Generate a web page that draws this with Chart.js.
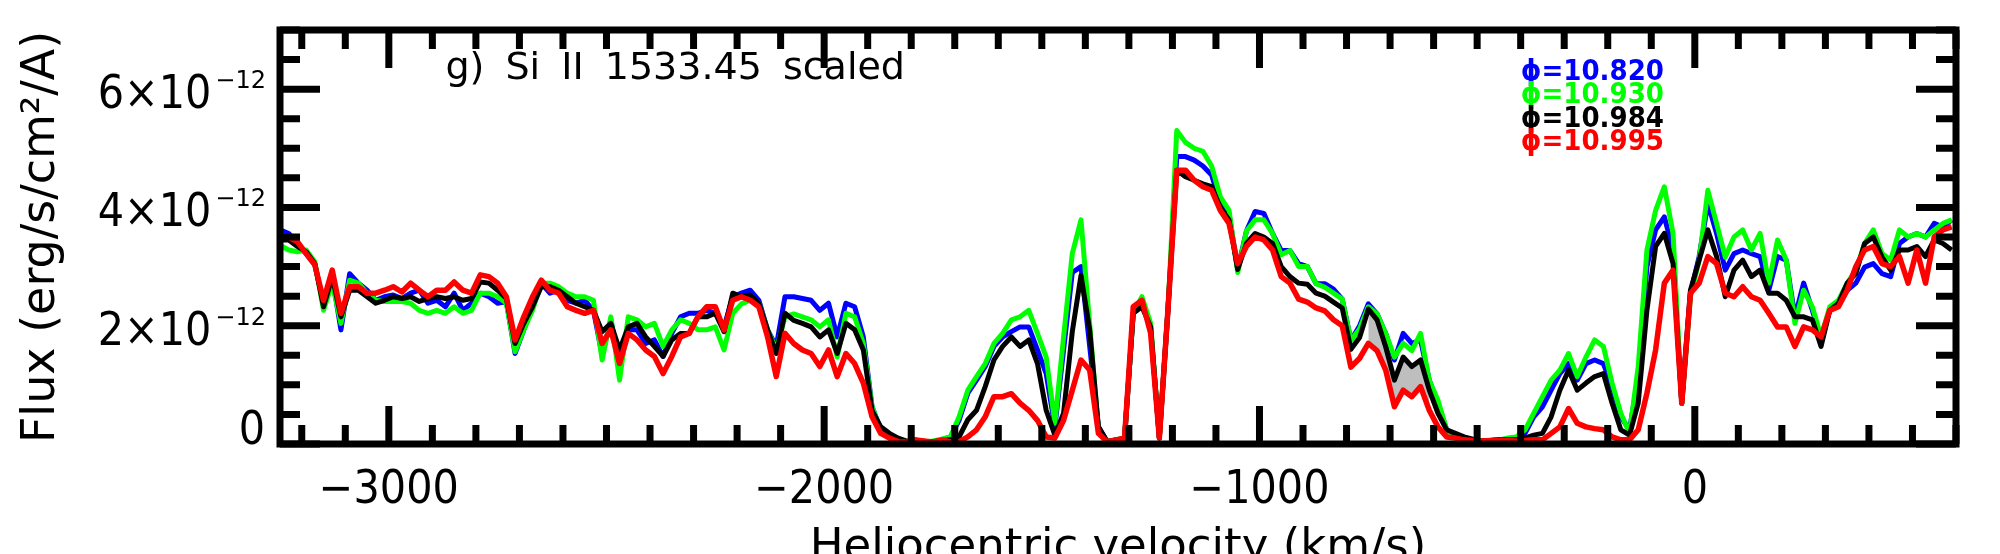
<!DOCTYPE html>
<html>
<head>
<meta charset="utf-8">
<script src="https://cdn.jsdelivr.net/npm/chart.js@4.4.0/dist/chart.umd.min.js"></script>
<style>
  html, body { margin: 0; padding: 0; background: #fff; }
</style>
</head>
<body>
<canvas id="siChart" width="2000" height="554"></canvas>
<script>
// heliocentric velocity grid (km/s), shared by the four spectra
const velocity = [
  -3250,-3230,-3210,-3190,-3170,-3150,-3130,-3110,-3090,-3070,
  -3050,-3030,-3010,-2990,-2970,-2950,-2930,-2910,-2890,-2870,
  -2850,-2830,-2810,-2790,-2770,-2750,-2730,-2710,-2690,-2670,
  -2650,-2630,-2610,-2590,-2570,-2550,-2530,-2510,-2490,-2470,
  -2450,-2430,-2410,-2390,-2370,-2350,-2330,-2310,-2290,-2270,
  -2250,-2230,-2210,-2190,-2170,-2150,-2130,-2110,-2090,-2070,
  -2050,-2030,-2010,-1990,-1970,-1950,-1930,-1910,-1890,-1870,
  -1850,-1830,-1810,-1790,-1770,-1750,-1730,-1710,-1690,-1670,
  -1650,-1630,-1610,-1590,-1570,-1550,-1530,-1510,-1490,-1470,
  -1450,-1430,-1410,-1390,-1370,-1350,-1330,-1310,-1290,-1270,
  -1250,-1230,-1210,-1190,-1170,-1150,-1130,-1110,-1090,-1070,
  -1050,-1030,-1010,-990,-970,-950,-930,-910,-890,-870,
  -850,-830,-810,-790,-770,-750,-730,-710,-690,-670,
  -650,-630,-610,-590,-570,-550,-530,-510,-490,-470,
  -450,-430,-410,-390,-370,-350,-330,-310,-290,-270,
  -250,-230,-210,-190,-170,-150,-130,-110,-90,-70,
  -50,-30,-10,10,30,50,70,90,110,130,
  150,170,190,210,230,250,270,290,310,330,
  350,370,390,410,430,450,470,490,510,530,
  550,570,590
];

// flux, in units of 1e-12 erg/s/cm2/A
const flux10820 = [ // blue
  3.62,3.56,3.39,3.22,3.03,2.38,2.83,1.93,2.88,2.72,
  2.60,2.43,2.49,2.52,2.46,2.55,2.60,2.38,2.43,2.32,
  2.55,2.26,2.38,2.55,2.49,2.38,2.41,1.53,1.93,2.32,
  2.72,2.55,2.60,2.43,2.38,2.43,2.26,1.50,2.10,1.31,
  1.93,1.93,1.70,1.76,1.48,1.87,2.15,2.21,2.21,2.26,
  2.21,1.98,2.49,2.55,2.60,2.43,1.93,1.65,2.49,2.49,
  2.46,2.43,2.26,2.38,1.81,2.38,2.32,1.81,0.63,0.24,
  0.12,0.04,0.04,0.07,0.04,0.04,0.07,0.12,0.40,0.86,
  1.08,1.31,1.65,1.81,1.90,1.98,1.98,1.59,1.19,0.29,
  1.59,2.90,3.00,1.65,0.29,0.04,0.07,0.10,2.21,2.43,
  1.98,0.10,2.30,4.86,4.86,4.80,4.70,4.55,4.07,3.90,
  2.95,3.60,3.93,3.90,3.56,3.27,3.27,3.05,3.00,2.71,
  2.71,2.62,2.45,1.75,2.00,2.37,2.20,1.87,1.42,1.87,
  1.70,1.76,1.08,0.69,0.24,0.12,0.07,0.07,0.05,0.06,
  0.07,0.07,0.10,0.18,0.46,0.63,0.91,1.19,1.36,1.08,
  1.36,1.42,1.36,0.97,0.46,0.24,1.14,3.00,3.62,3.84,
  3.28,0.69,2.55,3.17,4.07,3.56,2.94,3.22,3.28,3.22,
  3.17,2.60,3.17,3.11,2.15,2.72,2.26,1.76,2.26,2.38,
  2.60,2.72,2.99,3.05,2.88,2.83,3.39,3.50,3.56,3.50,
  3.73,3.67,3.79
];
const flux10930 = [ // green
  3.36,3.28,3.25,3.28,3.08,2.26,2.72,2.04,2.77,2.72,
  2.55,2.43,2.41,2.41,2.41,2.38,2.26,2.21,2.26,2.21,
  2.32,2.21,2.26,2.55,2.55,2.49,2.38,1.56,1.93,2.26,
  2.72,2.72,2.66,2.55,2.49,2.49,2.43,1.42,2.15,1.08,
  2.15,2.10,1.98,2.04,1.65,1.93,2.10,2.04,1.93,1.93,
  1.98,1.59,2.21,2.37,2.43,2.38,1.93,1.59,2.15,2.20,
  2.15,2.10,1.98,2.10,1.47,2.21,2.15,1.70,0.63,0.24,
  0.12,0.04,0.04,0.06,0.04,0.05,0.08,0.12,0.46,0.91,
  1.14,1.36,1.70,1.87,2.10,2.15,2.26,1.87,1.47,0.35,
  1.81,3.22,3.79,2.02,0.24,0.04,0.07,0.10,2.21,2.49,
  2.04,0.10,2.30,5.30,5.10,5.00,4.95,4.70,4.18,3.95,
  2.90,3.60,3.79,3.79,3.56,3.20,3.27,3.00,3.00,2.71,
  2.65,2.55,2.45,1.75,1.95,2.32,2.20,1.87,1.47,1.70,
  1.58,1.87,1.08,0.74,0.24,0.12,0.07,0.07,0.05,0.06,
  0.07,0.10,0.12,0.24,0.52,0.80,1.08,1.25,1.53,1.14,
  1.47,1.76,1.65,1.03,0.52,0.18,1.31,3.28,3.95,4.35,
  3.56,0.69,2.49,3.11,4.29,3.73,3.16,3.50,3.62,3.28,
  3.56,2.72,3.45,3.11,2.04,2.60,2.32,1.81,2.32,2.43,
  2.72,2.94,3.39,3.62,3.22,3.11,3.62,3.50,3.56,3.50,
  3.62,3.73,3.79
];
const flux10984 = [ // black
  3.45,3.45,3.34,3.25,3.05,2.32,2.83,2.15,2.60,2.60,
  2.49,2.38,2.43,2.49,2.46,2.49,2.41,2.46,2.49,2.46,
  2.49,2.43,2.46,2.74,2.72,2.60,2.46,1.70,2.04,2.32,
  2.66,2.66,2.60,2.49,2.38,2.32,2.26,1.90,2.04,1.59,
  1.98,2.04,1.81,1.65,1.48,1.76,1.87,1.87,2.15,2.15,
  2.21,1.90,2.55,2.49,2.52,2.38,1.93,1.53,2.21,2.09,
  2.04,1.98,1.81,1.93,1.53,2.04,1.93,1.59,0.57,0.29,
  0.18,0.10,0.05,0.06,0.04,0.04,0.06,0.07,0.12,0.41,
  0.57,0.97,1.42,1.65,1.81,1.65,1.76,1.36,0.57,0.15,
  0.52,1.90,2.85,1.93,0.29,0.04,0.07,0.10,2.21,2.32,
  1.98,0.10,2.30,4.63,4.52,4.46,4.40,4.35,4.00,3.79,
  2.95,3.39,3.56,3.50,3.39,3.00,2.83,2.72,2.70,2.55,
  2.50,2.40,2.30,1.60,1.80,2.28,2.10,1.64,1.08,1.47,
  1.31,1.42,0.91,0.52,0.24,0.18,0.12,0.08,0.05,0.06,
  0.07,0.07,0.07,0.10,0.15,0.18,0.46,0.91,1.25,0.91,
  1.03,1.14,1.19,0.69,0.24,0.15,0.69,2.26,3.34,3.56,
  3.05,0.69,2.60,3.11,3.62,3.17,2.49,2.94,3.11,2.83,
  2.94,2.55,2.55,2.43,2.15,2.15,2.10,1.65,2.26,2.38,
  2.72,2.88,3.39,3.50,3.16,2.94,3.28,3.28,3.34,3.17,
  3.45,3.39,3.28
];
const flux10995 = [ // red
  3.53,3.50,3.42,3.22,3.03,2.43,2.94,2.21,2.66,2.66,
  2.55,2.55,2.60,2.66,2.57,2.72,2.60,2.49,2.60,2.60,
  2.74,2.60,2.55,2.86,2.83,2.72,2.49,1.76,2.15,2.49,
  2.77,2.60,2.55,2.32,2.26,2.21,2.26,1.70,1.93,1.36,
  1.87,1.76,1.59,1.48,1.19,1.48,1.81,1.87,2.15,2.32,
  2.32,1.93,2.43,2.49,2.43,2.32,1.81,1.14,1.87,1.70,
  1.59,1.53,1.31,1.59,1.14,1.53,1.36,1.03,0.46,0.18,
  0.10,0.04,0.03,0.07,0.05,0.03,0.07,0.04,0.04,0.12,
  0.24,0.46,0.80,0.80,0.85,0.69,0.57,0.40,0.12,0.10,
  0.40,0.91,1.42,1.25,0.18,0.04,0.07,0.10,2.32,2.43,
  1.87,0.10,2.30,4.63,4.63,4.46,4.35,4.29,3.95,3.73,
  3.05,3.34,3.50,3.45,3.28,2.83,2.72,2.45,2.40,2.30,
  2.25,2.10,2.00,1.30,1.45,1.70,1.58,1.25,0.63,0.91,
  0.80,0.97,0.57,0.29,0.12,0.10,0.07,0.06,0.05,0.06,
  0.06,0.06,0.05,0.06,0.07,0.07,0.18,0.29,0.60,0.35,
  0.29,0.26,0.24,0.12,0.07,0.07,0.24,0.86,1.59,2.72,
  2.94,0.69,2.55,2.72,3.17,3.05,2.55,2.49,2.66,2.49,
  2.43,2.21,1.98,1.98,1.65,1.98,1.93,1.81,2.26,2.32,
  2.60,3.00,3.28,3.34,3.05,3.00,3.17,2.72,3.28,2.72,
  3.50,3.62,3.67
];

const phaseLabels = ['\u03D5=10.820', '\u03D5=10.930', '\u03D5=10.984', '\u03D5=10.995'];
const phaseColors = ['#0000ff', '#00ff00', '#000000', '#ff0000'];
const xTickLabels = [-3000, -2000, -1000, 0];
const yTickLabels = [0, 2, 4, 6];
const shadeRange = [-750, -610]; // grey band between black and red
const panelTitle = 'g) Si II 1533.45 scaled';

const toPoints = (arr) => velocity.map((v, i) => ({ x: v, y: arr[i] }));

// IDL-style frame: inward ticks on all four sides, labels, panel title, legend
const idlFrame = {
  id: 'idlFrame',
  afterDraw(chart) {
    const { ctx, chartArea: a, scales: { x, y } } = chart;
    ctx.save();
    ctx.strokeStyle = '#000';
    ctx.lineCap = 'butt';
    ctx.lineWidth = 7;
    x.ticks.forEach(t => {
      const px = x.getPixelForValue(t.value);
      const len = Math.abs(t.value % 1000) < 1e-6 ? 38 : 19;
      ctx.beginPath();
      ctx.moveTo(px, a.bottom); ctx.lineTo(px, a.bottom - len);
      ctx.moveTo(px, a.top); ctx.lineTo(px, a.top + len);
      ctx.stroke();
    });
    y.ticks.forEach(t => {
      const py = y.getPixelForValue(t.value);
      const len = Math.abs(t.value % 2) < 1e-6 ? 40 : 20;
      ctx.beginPath();
      ctx.moveTo(a.left, py); ctx.lineTo(a.left + len, py);
      ctx.moveTo(a.right, py); ctx.lineTo(a.right - len, py);
      ctx.stroke();
    });
    ctx.strokeRect(a.left, a.top, a.right - a.left, a.bottom - a.top);

    // y tick labels with exponent
    ctx.fillStyle = '#000';
    ctx.textAlign = 'right';
    ctx.textBaseline = 'alphabetic';
    const xr = a.left - 14;
    yTickLabels.forEach(v => {
      const py = y.getPixelForValue(v);
      if (v === 0) {
        ctx.font = '46px "DejaVu Sans Condensed"';
        ctx.fillText('0', xr - 1, py);
        return;
      }
      ctx.font = '24px "DejaVu Sans"';
      ctx.fillText('\u221212', xr, py - 1);
      const w = ctx.measureText('\u221212').width;
      ctx.font = '46px "DejaVu Sans Condensed"';
      ctx.fillText(v + '\u00D710', xr - w - 4, py + 19);
    });

    // panel title
    ctx.textAlign = 'left';
    ctx.font = '38px "DejaVu Sans"';
    ctx.wordSpacing = '9px';
    ctx.fillText(panelTitle, x.getPixelForValue(-2870), 79);
    ctx.wordSpacing = '0px';

    // legend
    ctx.font = 'bold 29px "DejaVu Sans Condensed"';
    phaseLabels.forEach((lab, i) => {
      ctx.fillStyle = phaseColors[i];
      ctx.fillText(lab, x.getPixelForValue(-400), 80 + i * 23.4);
    });
    ctx.restore();
  }
};

const lineSet = (label, arr, color, order, width) => ({
  label, data: toPoints(arr), borderColor: color, borderWidth: width,
  pointRadius: 0, tension: 0, fill: false, order, borderJoinStyle: 'round'
});

new Chart(document.getElementById('siChart'), {
  type: 'line',
  data: {
    datasets: [
      lineSet(phaseLabels[0], flux10820, phaseColors[0], 3, 5),
      lineSet(phaseLabels[1], flux10930, phaseColors[1], 2, 5),
      lineSet(phaseLabels[2], flux10984, phaseColors[2], 1, 5),
      lineSet(phaseLabels[3], flux10995, phaseColors[3], 0, 5.5),
      {
        label: 'shade',
        data: toPoints(flux10984).filter(p => p.x >= shadeRange[0] && p.x <= shadeRange[1]),
        borderWidth: 0, pointRadius: 0, order: 4,
        backgroundColor: '#bebebe',
        fill: { target: 3, above: '#bebebe', below: '#bebebe' }
      }
    ]
  },
  options: {
    responsive: false,
    animation: false,
    events: [],
    layout: { padding: { top: 30, right: 44, left: 0, bottom: 0 } },
    plugins: { legend: { display: false }, tooltip: { enabled: false } },
    scales: {
      x: {
        type: 'linear', min: -3250, max: 600,
        afterFit: (s) => { s.height = 110; },
        grid: { display: false, drawTicks: false },
        border: { display: false },
        ticks: {
          stepSize: 100, includeBounds: false, autoSkip: false,
          maxRotation: 0, minRotation: 0, padding: 19, color: '#000',
          font: { family: 'DejaVu Sans Condensed', size: 46 },
          callback: (v) => xTickLabels.includes(v) ? (v < 0 ? '\u2212' + Math.abs(v) : String(v)) : ''
        },
        title: {
          display: true, text: 'Heliocentric velocity (km/s)', color: '#000',
          font: { family: 'DejaVu Sans', size: 45 },
          padding: { top: 0, bottom: -21 }
        }
      },
      y: {
        min: 0, max: 7,
        afterFit: (s) => { s.width = 280; },
        grid: { display: false, drawTicks: false },
        border: { display: false },
        ticks: { stepSize: 0.5, display: false },
        title: {
          display: true, text: 'Flux (erg/s/cm\u00B2/A)', color: '#000',
          font: { family: 'DejaVu Sans', size: 46 },
          padding: { top: 14, bottom: 0 }
        }
      }
    }
  },
  plugins: [idlFrame]
});
</script>
</body>
</html>
